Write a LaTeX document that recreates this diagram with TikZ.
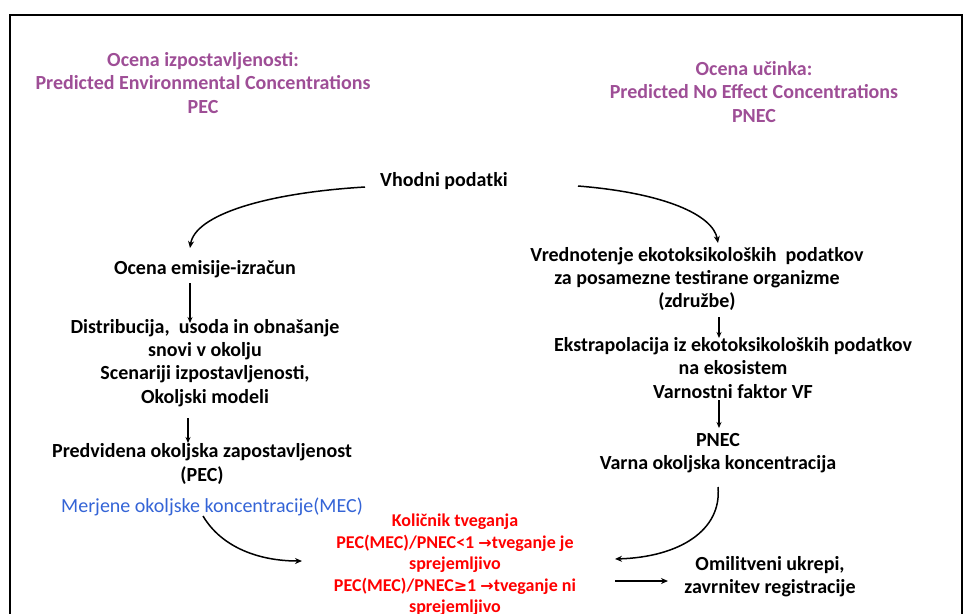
\documentclass[tikz,border=0pt]{standalone}
\usepackage{fontspec}
\setmainfont{Carlito}
\newfontfamily\symfont{DejaVu Sans}
\usetikzlibrary{arrows.meta}
\definecolor{ppurple}{RGB}{158,78,150}
\definecolor{pblue}{RGB}{52,100,214}
\definecolor{pred}{RGB}{255,0,0}
\newcommand{\sym}[1]{{\symfont\bfseries\fontsize{16}{21.5}\selectfont #1}}
\begin{document}
\begin{tikzpicture}[x=1pt,y=-1pt,
  txt/.style={font=\bfseries\fontsize{20}{23.3}\selectfont, align=center, inner sep=0pt, text=black},
  ptxt/.style={txt, text=ppurple},
  btxt/.style={font=\fontsize{20}{23}\selectfont, align=center, inner sep=0pt, text=pblue},
  rtxt/.style={font=\bfseries\fontsize{18}{21.5}\selectfont, align=center, inner sep=0pt, text=pred},
  conn/.style={line width=1.5pt, -{Stealth[length=7pt,width=6pt]}},
  sconn/.style={line width=1.2pt, -{Stealth[length=6pt,width=5pt]}}]
\useasboundingbox (0,0) rectangle (973,613);
\draw[line width=2.5pt] (10,640) -- (10,15) -- (962,15) -- (962,640);

\node[ptxt] (hl) at (203,83) {Ocena izpostavljenosti:\\Predicted Environmental Concentrations\\PEC};
\node[ptxt] (hr) at (754,92) {Ocena učinka:\\Predicted No Effect Concentrations\\PNEC};

\node[txt] (vh) at (444,181) {Vhodni podatki};
\node[txt] (oe) at (205,269) {Ocena emisije-izračun};
\node[txt] (di) at (205,363) {Distribucija,\ \ usoda in obnašanje\\snovi v okolju\\Scenariji izpostavljenosti,\\Okoljski modeli};
\node[txt] (pr) at (202,464) {Predvidena okoljska zapostavljenost\\(PEC)};
\node[btxt] (me) at (212,507) {Merjene okoljske koncentracije(MEC)};

\node[txt] (vr) at (697,279) {Vrednotenje ekotoksikoloških\ \ podatkov\\za posamezne testirane organizme\\(združbe)};
\node[txt] (ek) at (733,368) {Ekstrapolacija iz ekotoksikoloških podatkov\\na ekosistem\\Varnostni faktor VF};
\node[txt] (pn) at (718,453) {PNEC\\Varna okoljska koncentracija};

\node[rtxt] (kt) at (455,565) {Količnik tveganja\\PEC(MEC)/PNEC<1 \sym{→}tveganje je\\sprejemljivo\\PEC(MEC)/PNEC\sym{≥}1 \sym{→}tveganje ni\\sprejemljivo};
\node[txt] (om) at (770,577) {Omilitveni ukrepi,\\zavrnitev registracije};

\coordinate (a1s) at (365,187);
\coordinate (a1e) at (190,248);
\coordinate (a2s) at (578,186);
\coordinate (a2e) at (718,243);
\draw[conn] (a1s) .. controls (265,193) and (195,215) .. (a1e);
\draw[conn] (a2s) .. controls (665,193) and (713,215) .. (a2e);

\draw[sconn] (190,283) -- (190,323);
\draw[sconn] (188,418) -- (188,443);
\draw[sconn] (719,317) -- (719,338);
\draw[sconn] (719,400) -- (719,428);

\draw[conn] (203,516) .. controls (222,548) and (260,561) .. (302,561);
\draw[conn] (718,487) .. controls (722,530) and (680,557) .. (615,559);
\draw[conn] (615,581) -- (668,581);
\end{tikzpicture}
\end{document}
